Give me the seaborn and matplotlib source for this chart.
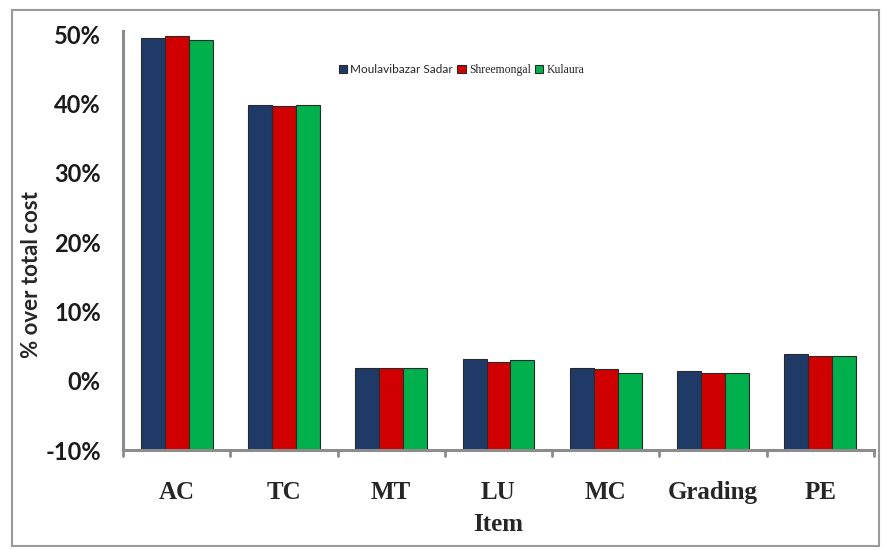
import matplotlib
matplotlib.use("Agg")
import matplotlib.pyplot as plt
import matplotlib.patches as mpatches
import seaborn as sns
import pandas as pd
import numpy as np

items = ["AC", "TC", "MT", "LU", "MC", "Grading", "PE"]
series = ["Moulavibazar Sadar", "Shreemongal", "Kulaura"]
moulavibazar = [49.5, 39.8, 1.9, 3.1, 1.9, 1.35, 3.8]
shreemongal = [49.8, 39.6, 1.9, 2.7, 1.7, 1.15, 3.55]
kulaura = [49.2, 39.8, 1.9, 3.0, 1.15, 1.15, 3.55]
yticks = [-10, 0, 10, 20, 30, 40, 50]
colors = ["#1F3A66", "#D00000", "#00B04C"]

base = -10
df = pd.DataFrame({
    "Item": items * 3,
    "Series": [series[0]] * 7 + [series[1]] * 7 + [series[2]] * 7,
    "Value": moulavibazar + shreemongal + kulaura,
})

sns.set_style("white")
fig = plt.figure(figsize=(8.83, 5.5), dpi=100)
ax = fig.add_axes([123/883, 1 - 450/550, (874 - 123)/883, (450 - 31)/550])

sns.barplot(data=df, x="Item", y="Value", hue="Series", order=items,
            hue_order=series, palette=colors, width=0.67, saturation=1,
            edgecolor="#2a2a2a", linewidth=0.8, ax=ax, legend=True)

# bars rise from the axis crossing at -10%
for cont in ax.containers:
    for p in cont:
        top = p.get_y() + p.get_height()
        p.set_y(base)
        p.set_height(top - base)

ax.set_ylim(-10, 50.5)
ax.set_xlim(-0.5, 6.5)
ax.set_yticks(yticks)
ax.set_yticklabels([f"{v}%" for v in yticks], fontsize=17, fontfamily="Lato", fontweight="bold", color="#1a1a1a")
ax.set_xticks(range(len(items)))
ax.set_xticklabels(items, fontsize=18, fontfamily="Liberation Serif", fontweight="bold")
ax.tick_params(axis="x", length=0, pad=22)
ax.tick_params(axis="y", length=6, width=2, color="#8c8c8c", direction="out", pad=10)
for b in np.arange(-0.5, 7.0, 1.0):
    ax.plot([b, b], [-10, -10.9], color="#8c8c8c", lw=2, clip_on=False)

for s in ["top", "right"]:
    ax.spines[s].set_visible(False)
for s in ["left", "bottom"]:
    ax.spines[s].set_color("#8c8c8c")
    ax.spines[s].set_linewidth(2.2)

ax.set_ylabel("% over total cost", fontsize=16, fontfamily="Lato", fontweight="bold")
ax.yaxis.set_label_coords(-0.108, 0.418)
ax.set_xlabel("Item", fontsize=18, fontfamily="Liberation Serif", fontweight="bold", labelpad=7)

leg = ax.legend(loc="center", bbox_to_anchor=(0.451, 0.907), ncol=3, frameon=False,
                handlelength=0.7, handleheight=0.7, handletextpad=0.3, columnspacing=0.35,
                fontsize=8.5)
fams = ["Lato", "Liberation Serif", "Liberation Serif"]
for t, f in zip(leg.get_texts(), fams):
    t.set_fontfamily(f)

fig.patches.append(mpatches.Rectangle((12/883, 1 - 546/550), (879 - 12)/883, (546 - 10)/550,
                                      transform=fig.transFigure, fill=False,
                                      edgecolor="#9a9a9a", lw=1.5))

fig.savefig("out.png", dpi=100)
